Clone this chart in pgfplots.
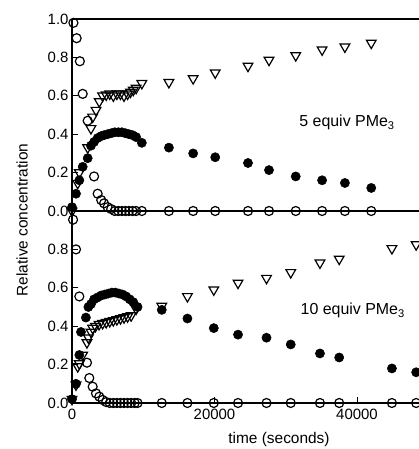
\documentclass[border=0pt]{standalone}
\usepackage{pgfplots}
\pgfplotsset{compat=1.18}
\usepackage{fontspec}
\setmainfont{Liberation Sans}
\begin{document}
\begin{tikzpicture}
\pgfplotsset{
 every axis/.append style={
  scale only axis, width=347bp, height=192bp,
  xmin=0, xmax=48700, ymin=0, ymax=1,
  axis line style={line width=1.4bp, black},
  tick align=inside, major tick length=6bp,
  tick style={line width=1bp, black},
  clip=false,
  /pgf/number format/assume math mode=true,
  tick label style={font=\fontsize{15}{17}\selectfont},
  yticklabel style={/pgf/number format/.cd, fixed, fixed zerofill, precision=1},
  xticklabel style={/pgf/number format/1000 sep={}, yshift=-3bp},
  scaled x ticks=false,
 },
 opn/.style={only marks, mark=o, mark size=4.5bp, mark options={line width=1.2bp, black}},
 fil/.style={only marks, mark=*, mark size=4.6bp, mark options={line width=0.5bp, black, fill=black}},
 tri/.style={only marks, mark=triangle, mark size=5.6bp, mark options={line width=1.2bp, black, rotate=180}},
}
% ---------- top panel: 5 equiv ----------
\begin{axis}[at={(72bp,238bp)}, anchor=south west,
  axis x line*=box, axis y line*=left,
  xtick=\empty, ytick={0,0.2,0.4,0.6,0.8,1.0}]
\addplot[opn] coordinates {(200,0.98)(650,0.90)(1100,0.78)(1500,0.61)(2200,0.47)(3100,0.18)(3600,0.09)(4100,0.057)(4500,0.04)(5000,0.02)(5500,0.01)(6000,0)(6500,0)(7000,0)(7500,0)(8000,0)(8500,0)(9000,0)(9800,0)(13600,0)(17000,0)(20100,0)(24700,0)(27650,0)(31400,0)(35100,0)(38300,0)(42000,0)};
\addplot[fil] coordinates {(0,0.02)(560,0.09)(1030,0.16)(1500,0.23)(2200,0.275)(2660,0.34)(3100,0.36)(3600,0.38)(4100,0.39)(4500,0.395)(5000,0.40)(5500,0.405)(6000,0.41)(6500,0.41)(7000,0.41)(7500,0.405)(8000,0.40)(8500,0.395)(9000,0.385)(9800,0.355)(13600,0.33)(17000,0.30)(20100,0.28)(24700,0.25)(27650,0.213)(31400,0.18)(35100,0.16)(38300,0.146)(42000,0.12)};
\addplot[tri] coordinates {(0,0.0)(800,0.145)(1030,0.20)(2200,0.33)(2660,0.43)(2900,0.49)(3370,0.525)(3830,0.57)(4300,0.60)(4800,0.605)(5300,0.61)(5800,0.60)(6300,0.61)(6800,0.61)(7300,0.60)(7800,0.61)(8200,0.62)(8600,0.63)(9000,0.64)(9800,0.665)(13600,0.67)(17000,0.69)(20100,0.72)(24700,0.755)(27650,0.786)(31400,0.81)(35100,0.84)(38300,0.855)(42000,0.875)};
\node[font=\fontsize{16}{18}\selectfont] at (axis cs:38600,0.46) {5 equiv PMe\textsubscript{3}};
\end{axis}
% ---------- bottom panel: 10 equiv ----------
\begin{axis}[at={(72bp,46bp)}, anchor=south west,
  axis x line*=bottom, axis y line*=left,
  xtick={0,20000,40000}, ytick={0,0.2,0.4,0.6,0.8}]
\addplot[opn] coordinates {(150,0.955)(560,0.80)(1030,0.555)(2100,0.21)(2430,0.13)(2900,0.085)(3370,0.05)(3830,0.033)(4300,0.016)(4800,0.005)(5300,0)(5800,0)(6300,0)(6800,0)(7300,0)(7800,0)(8300,0)(8800,0)(9200,0)(12600,0)(16200,0)(19900,0)(23300,0)(27300,0)(30700,0)(34800,0)(37500,0)(44900,0)(48300,0)};
\addplot[fil] coordinates {(0,0.02)(560,0.10)(1030,0.25)(1260,0.37)(1950,0.445)(2300,0.50)(2660,0.515)(3100,0.54)(3600,0.55)(4100,0.56)(4600,0.565)(5100,0.57)(5600,0.575)(6100,0.575)(6600,0.57)(7100,0.565)(7600,0.555)(8100,0.54)(8600,0.525)(9200,0.50)(12600,0.485)(16200,0.44)(19900,0.39)(23300,0.356)(27300,0.34)(30700,0.305)(34800,0.258)(37500,0.237)(44900,0.18)(48300,0.16)};
\addplot[tri] coordinates {(0,0.02)(560,0.095)(800,0.19)(1030,0.205)(1500,0.25)(2100,0.315)(2300,0.34)(2660,0.37)(2900,0.39)(3300,0.40)(3800,0.41)(4300,0.415)(4800,0.42)(5300,0.425)(5800,0.43)(6300,0.435)(6800,0.44)(7300,0.445)(7800,0.45)(8300,0.455)(9000,0.49)(12600,0.505)(16200,0.555)(19900,0.59)(23300,0.625)(27300,0.65)(30700,0.68)(34800,0.73)(37500,0.75)(44900,0.805)(48300,0.825)};
\node[font=\fontsize{16}{18}\selectfont] at (axis cs:39400,0.48) {10 equiv PMe\textsubscript{3}};
\end{axis}
\node[rotate=90, font=\fontsize{15.5}{18}\selectfont] at (22bp,229bp) {Relative concentration};
\node[font=\fontsize{15.5}{18}\selectfont] at (279bp,9bp) {time (seconds)};
\pgfresetboundingbox
\path[use as bounding box] (0,0) rectangle (419bp,449bp);
\end{tikzpicture}
\end{document}
